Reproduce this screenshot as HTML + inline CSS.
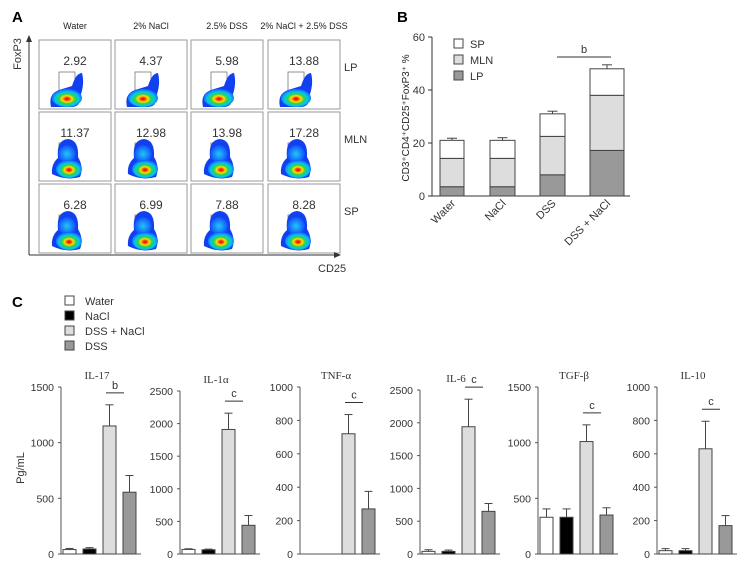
<!DOCTYPE html>
<html><head><meta charset="utf-8"><style>
body{margin:0;background:#fff}
svg{display:block;font-family:"Liberation Sans",sans-serif}
</style></head><body>
<svg id="fig" width="751" height="566" viewBox="0 0 751 566" xmlns="http://www.w3.org/2000/svg">
<defs>
<radialGradient id="dens" cx="0.5" cy="0.55" r="0.6">
<stop offset="0" stop-color="#d00000"/><stop offset="0.15" stop-color="#ff5000"/><stop offset="0.28" stop-color="#ffe000"/><stop offset="0.45" stop-color="#30d050"/><stop offset="0.65" stop-color="#00c8e8"/><stop offset="0.85" stop-color="#1870ff"/><stop offset="1" stop-color="#1040f0"/>
</radialGradient>
<radialGradient id="dens2" cx="0.5" cy="0.5" r="0.55">
<stop offset="0" stop-color="#1fc8f0"/><stop offset="0.6" stop-color="#1878ff"/><stop offset="1" stop-color="#1040f0"/>
</radialGradient>
</defs>
<g id="panelA"></g>
<g id="panelB"></g>
<g id="panelC"></g>
</svg>
<script>
// ---------- Panel A data ----------
const flowCols = ["Water","2% NaCl","2.5% DSS","2% NaCl + 2.5% DSS"];
const flowRows = ["LP","MLN","SP"];
const flowValues = [["2.92","4.37","5.98","13.88"],["11.37","12.98","13.98","17.28"],["6.28","6.99","7.88","8.28"]];
// ---------- Panel B data ----------
const bCats = ["Water","NaCl","DSS","DSS + NaCl"];
const bLP = [3.5,3.5,8,17.2];
const bMLN = [10.7,10.7,14.5,20.8];
const bSP = [6.8,6.8,8.5,10];
const bErrLP = [1.5,1.3,1,3];
const bErrMLN = [2,1.2,3.5,3.5];
const bErrSP = [0.8,1,1,1.5];
const bTicks = [0,20,40,60];
// ---------- Panel C data ----------
const cTitles = ["IL-17","IL-1α","TNF-α","IL-6","TGF-β","IL-10"];
const cMax = [1500,2500,1000,2500,1500,1000];
const cTickStep = [500,500,200,500,500,200];
const cWater = [40,70,0,40,330,20];
const cNaCl = [45,65,0,40,330,20];
const cDssNacl = [1150,1910,720,1940,1010,630];
const cDss = [555,440,270,650,350,170];
const cErrWater = [10,10,0,25,75,12];
const cErrNaCl = [12,10,0,20,75,12];
const cErrDssNacl = [190,250,115,420,150,165];
const cErrDss = [150,150,105,120,65,60];
const cSig = ["b","c","c","c","c","c"];

const NS="http://www.w3.org/2000/svg";
function mk(tag,attrs,parent,text){const e=document.createElementNS(NS,tag);for(const k in attrs)e.setAttribute(k,attrs[k]);if(text!==undefined)e.textContent=text;parent.appendChild(e);return e;}

// ---------- Panel A ----------
(function(){
const g=document.getElementById('panelA');
const t=mk('text',{x:12,y:22,'font-size':15,'font-weight':'bold'},g,'A');


const cx=[39,115,191,268], ry=[40,112,184], w=72, h=69;
flowCols.forEach((c,i)=>{const e=mk('text',{x:cx[i]+w/2,y:29,'font-size':9,'text-anchor':'middle',fill:'#222'},g,c);

});
flowRows.forEach((r,j)=>{const e=mk('text',{x:344,y:ry[j]+31,'font-size':11,fill:'#333'},g,r);

});
flowRows.forEach((r,j)=>flowCols.forEach((c,i)=>{
  const x=cx[i], y=ry[j];
  const p=mk('g',{},g);
  
  
  mk('rect',{x:x,y:y,width:w,height:h,fill:'#fff',stroke:'#999','stroke-width':1},p);
  const bx=x+20, by=y+(j==0?32:31);
  mk('rect',{x:bx,y:by,width:16,height:j==0?24:25,fill:'none',stroke:'#777','stroke-width':0.8},p);
  if(j==0){
    mk('path',{d:`M${x+12},${y+67} Q${x+9},${y+54} ${x+20},${y+50} L${x+33} ${y+46} Q${x+37},${y+33} ${x+43},${y+33} Q${x+46},${y+44} ${x+41},${y+57} Q${x+42},${y+67} ${x+32},${y+67} Z`,fill:'#1040f0'},p);
    mk('ellipse',{cx:x+28,cy:y+58,rx:15,ry:9,fill:'url(#dens)'},p);
  } else {
    mk('path',{d:`M${x+13},${y+62} Q${x+12},${y+52} ${x+19},${y+46} Q${x+17},${y+28} ${x+29},${y+27} Q${x+40},${y+28} ${x+39},${y+45} Q${x+45},${y+55} ${x+41},${y+65} Q${x+27},${y+69} ${x+13},${y+62} Z`,fill:'#1040f0'},p);
    mk('ellipse',{cx:x+28,cy:y+42,rx:9,ry:9,fill:'url(#dens2)'},p);
    mk('ellipse',{cx:x+30,cy:y+57,rx:13,ry:9,fill:'url(#dens)'},p);
  }
  const n=mk('text',{x:x+w/2,y:y+25,'font-size':12,'text-anchor':'middle',fill:'#333'},p,flowValues[j][i]);
  
  
}));
mk('line',{x1:29,y1:255,x2:29,y2:40,stroke:'#333'},g);
mk('path',{d:'M26,42 L29,35 L32,42 Z',fill:'#333'},g);
mk('line',{x1:29,y1:255,x2:336,y2:255,stroke:'#333'},g);
mk('path',{d:'M334,252 L341,255 L334,258 Z',fill:'#333'},g);
const fy=mk('text',{x:0,y:0,'font-size':11,'text-anchor':'middle',transform:'translate(21,54) rotate(-90)',fill:'#333'},g,'FoxP3');


const fx=mk('text',{x:318,y:272,'font-size':11,fill:'#333'},g,'CD25');


})();

// ---------- Panel B ----------
(function(){
const g=document.getElementById('panelB');
const t=mk('text',{x:397,y:22,'font-size':15,'font-weight':'bold'},g,'B');


const x0=432, y0=196, y60=37;
const Y=v=>y0-(y0-y60)*v/60;
const bl=[440,490,540,590], bw=[24,25,25,34];
mk('line',{x1:x0,y1:y0,x2:x0,y2:y60,stroke:'#333'},g);
mk('line',{x1:x0,y1:y0,x2:630,y2:y0,stroke:'#333'},g);
bTicks.forEach(v=>{mk('line',{x1:x0-4,y1:Y(v),x2:x0,y2:Y(v),stroke:'#333'},g);
 const e=mk('text',{x:x0-7,y:Y(v)+4,'font-size':11,'text-anchor':'end',fill:'#333'},g,v);
 
 });
const yl=mk('text',{x:0,y:0,'font-size':10,'text-anchor':'middle',transform:'translate(409,118) rotate(-90)',fill:'#222'},g,'CD3⁺CD4⁺CD25⁺FoxP3⁺ %');


bCats.forEach((c,i)=>{
  const segs=[[bLP[i],bErrLP[i],'#999'],[bMLN[i],bErrMLN[i],'#ddd'],[bSP[i],bErrSP[i],'#fff']];
  let base=0;
  segs.forEach((s,k)=>{
    const top=base+s[0];
    const r=mk('rect',{x:bl[i],y:Y(top),width:bw[i],height:Y(base)-Y(top),fill:s[2],stroke:'#444','stroke-width':1},g);
    
    
    const mx=bl[i]+bw[i]/2;
    mk('line',{x1:mx,y1:Y(top),x2:mx,y2:Y(top+s[1]),stroke:'#444'},g);
    mk('line',{x1:mx-5,y1:Y(top+s[1]),x2:mx+5,y2:Y(top+s[1]),stroke:'#444'},g);
    base=top;
  });
  const lx=bl[i]+bw[i]/2+4;
  const e=mk('text',{x:0,y:0,'font-size':11,'text-anchor':'end',transform:`translate(${lx},204) rotate(-45)`,fill:'#333'},g,c);
  
  
});
[['SP','#fff'],['MLN','#ddd'],['LP','#999']].forEach((l,k)=>{
  const lg=mk('g',{},g);
  
  
  mk('rect',{x:454,y:39+k*16,width:9,height:9,fill:l[1],stroke:'#444'},lg);
  mk('text',{x:470,y:48+k*16,'font-size':11,fill:'#333'},lg,l[0]);
});
mk('line',{x1:557,y1:57,x2:611,y2:57,stroke:'#333'},g);
const s=mk('text',{x:584,y:53,'font-size':11,'text-anchor':'middle',fill:'#333'},g,'b');


})();

// ---------- Panel C ----------
(function(){
const g=document.getElementById('panelC');
const t=mk('text',{x:12,y:307,'font-size':15,'font-weight':'bold'},g,'C');


const leg=[['Water','#fff'],['NaCl','#000'],['DSS + NaCl','#ddd'],['DSS','#999']];
leg.forEach((l,k)=>{
  const lg=mk('g',{},g);
  
  
  mk('rect',{x:65,y:296+k*15,width:9,height:9,fill:l[1],stroke:'#444'},lg);
  mk('text',{x:85,y:305+k*15,'font-size':11,fill:'#333'},lg,l[0]);
});
const axX=[61,180,300,420,538,657], axTop=[387,391,387,390,387,387], y0=554;
const colors=['#fff','#000','#ddd','#999'];
const yl=mk('text',{x:0,y:0,'font-size':11,'text-anchor':'middle',transform:'translate(24,468) rotate(-90)',fill:'#333'},g,'Pg/mL');


cTitles.forEach((ti,i)=>{
  const sg=mk('g',{},g);
  
  
  const ax=axX[i], top=axTop[i];
  const Y=v=>y0-(y0-top)*v/cMax[i];
  mk('line',{x1:ax,y1:y0,x2:ax,y2:top,stroke:'#555'},sg);
  mk('line',{x1:ax,y1:y0,x2:ax+80,y2:y0,stroke:'#555'},sg);
  for(let v=0;v<=cMax[i];v+=cTickStep[i]){
    mk('line',{x1:ax-3,y1:Y(v),x2:ax,y2:Y(v),stroke:'#555'},sg);
    const e=mk('text',{x:ax-7,y:Y(v)+4,'font-size':10.5,'text-anchor':'end',fill:'#333'},sg,v);
    
    
  }
  const tt=mk('text',{x:ax+36,y:top-8,'font-size':11,'text-anchor':'middle','font-family':'Liberation Serif, serif',fill:'#333'},sg,ti);
  
  
  const vals=[cWater[i],cNaCl[i],cDssNacl[i],cDss[i]], errs=[cErrWater[i],cErrNaCl[i],cErrDssNacl[i],cErrDss[i]];
  vals.forEach((v,k)=>{
    const bx=ax+2+k*20, bw=13;
    if(v<=0) return;
    const r=mk('rect',{x:bx,y:Y(v),width:bw,height:y0-Y(v),fill:colors[k],stroke:'#444','stroke-width':1},sg);
    
    
    const mx=bx+bw/2;
    mk('line',{x1:mx,y1:Y(v),x2:mx,y2:Y(v+errs[k]),stroke:'#444'},sg);
    mk('line',{x1:mx-4,y1:Y(v+errs[k]),x2:mx+4,y2:Y(v+errs[k]),stroke:'#444'},sg);
  });
  const sy=Math.min(Y(vals[2]+errs[2]),Y(vals[3]+errs[3]))-12;
  mk('line',{x1:ax+45,y1:sy,x2:ax+63,y2:sy,stroke:'#333'},sg);
  const s=mk('text',{x:ax+54,y:sy-4,'font-size':11,'text-anchor':'middle',fill:'#333'},sg,cSig[i]);
  
  
});
})();
</script>
</body></html>
